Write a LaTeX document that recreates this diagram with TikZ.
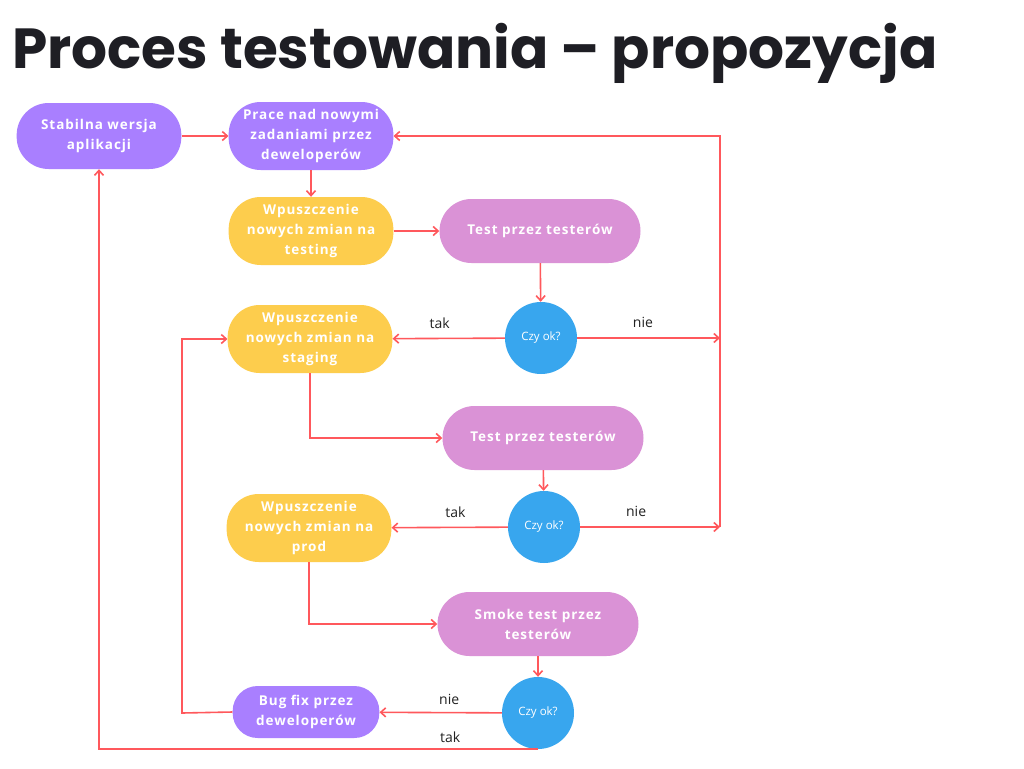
\documentclass[tikz,border=0pt]{standalone}
\usepackage{fontspec}
\setmainfont{Open Sans}
\newfontfamily\titlefont{Poppins}
\newfontfamily\boxfont{Open Sans}[LetterSpace=7]
\usetikzlibrary{arrows.meta, positioning, calc}
\definecolor{devpurple}{RGB}{169,127,255}
\definecolor{envyellow}{RGB}{253,205,77}
\definecolor{testpink}{RGB}{218,146,214}
\definecolor{okblue}{RGB}{56,166,238}
\definecolor{linkred}{RGB}{255,88,92}
\definecolor{labelgray}{RGB}{34,34,34}
\tikzset{
  pill/.style={rectangle, rounded corners=32pt, minimum width=164pt, minimum height=66pt, text width=158pt, align=center, text=white, font=\boxfont\bfseries\fontsize{13.5}{20}\selectfont},
  devbox/.style={pill, fill=devpurple},
  envbox/.style={pill, fill=envyellow},
  testbox/.style={pill, fill=testpink, minimum width=201pt, minimum height=64pt, text width=185pt},
  check/.style={circle, fill=okblue, minimum size=72pt, inner sep=0pt, text=white, font=\fontsize{11.5}{14}\selectfont},
  answer/.style={text=labelgray, font=\fontsize{14}{16}\selectfont},
  arrow/.style={draw=linkred, line width=1.6pt, -{Straight Barb[length=5pt, width=9pt]}},
  link/.style={draw=linkred, line width=1.6pt}
}
\begin{document}
\begin{tikzpicture}[x=1pt, y=-1pt]
  \useasboundingbox[fill=white] (0,0) rectangle (1024,768);
  \node[anchor=base west, inner sep=0pt, font=\titlefont\bfseries\fontsize{56.5}{64}\selectfont, text={rgb,255:red,30;green,30;blue,36}] (title) at (12,68) {Proces testowania – propozycja};

  % --- Nodes ---
  \node (stab) [devbox] at (99,136) {Stabilna wersja\\ aplikacji};
  \node (prace) [devbox, minimum height=68pt] at (311,136) {Prace nad nowymi\\ zadaniami przez\\ deweloperów};
  \node (wtest) [envbox, minimum height=68pt] at (311,231) {Wpuszczenie\\ nowych zmian na\\ testing};
  \node (test1) [testbox] at (540,231) {Test przez testerów};
  \node (ok1) [check] at (541,338) {Czy ok?};
  \node (wstag) [envbox, minimum height=68pt] at (310,339) {Wpuszczenie\\ nowych zmian na\\ staging};
  \node (test2) [testbox] at (543,438) {Test przez testerów};
  \node (ok2) [check] at (544,527) {Czy ok?};
  \node (wprod) [envbox, minimum height=68pt] at (309,528) {Wpuszczenie\\ nowych zmian na\\ prod};
  \node (smoke) [testbox] at (538,624) {Smoke test przez\\ testerów};
  \node (ok3) [check] at (538,713) {Czy ok?};
  \node (bug) [devbox, minimum width=143pt, minimum height=52pt, rounded corners=25pt, text width=140pt] at (306,712) {Bug fix przez\\ deweloperów};

  \coordinate (j1) at (720,338);
  \coordinate (j2) at (720,527);
  \coordinate (top) at (720,136);
  \coordinate (back) at (182,713);

  % --- Connections ---
  \draw [arrow] (stab) -- (prace);
  \draw [arrow] (prace) -- (wtest);
  \draw [arrow] (wtest) -- (test1);
  \draw [arrow] (test1) -- (ok1);
  \draw [arrow] (ok1) -- node[answer, above=6pt, pos=0.58]{tak} (wstag);
  \draw [arrow] (ok1) -- node[answer, above=6pt, pos=0.46]{nie} (j1);
  \draw [arrow] (wstag.south) |- (test2.west);
  \draw [arrow] (test2) -- (ok2);
  \draw [arrow] (ok2) -- node[answer, above=6pt, pos=0.45]{tak} (wprod);
  \draw [arrow] (ok2) -- node[answer, above=6pt, pos=0.4]{nie} (j2);
  \draw [arrow] (j2) -- (top) -- (prace.east);
  \draw [arrow] (wprod.south) |- (smoke.west);
  \draw [arrow] (smoke) -- (ok3);
  \draw [arrow] (ok3) -- node[answer, above=4pt, pos=0.43]{nie} (bug);
  \draw [arrow] (bug.west) -- (back) |- (wstag.west);
  \draw [arrow] (ok3.south) -| node[answer, above=2pt, pos=0.1]{tak} (stab.south);
\end{tikzpicture}
\end{document}
